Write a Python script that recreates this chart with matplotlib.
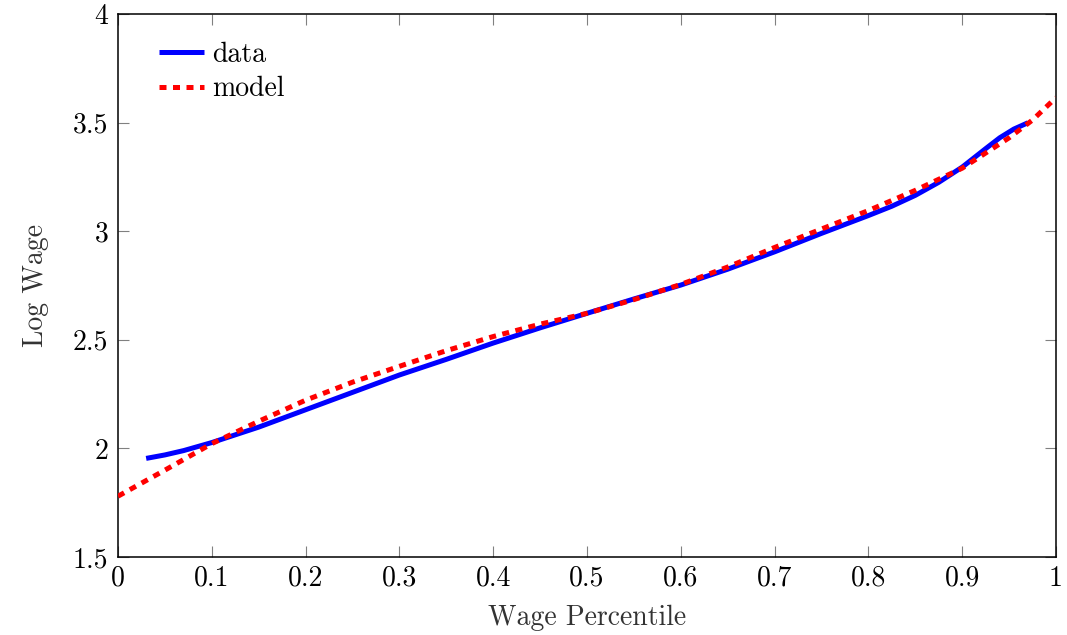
import numpy as np
import matplotlib
matplotlib.use("Agg")
import matplotlib.pyplot as plt

plt.rcParams["font.family"] = "serif"
plt.rcParams["font.serif"] = ["cmr10", "DejaVu Serif"]
plt.rcParams["mathtext.fontset"] = "cm"
plt.rcParams["axes.formatter.use_mathtext"] = True

# wage percentile vs log wage
data_x = [0.03, 0.05, 0.07, 0.10, 0.15, 0.20, 0.25, 0.30, 0.35, 0.40, 0.45, 0.50,
          0.55, 0.60, 0.65, 0.70, 0.75, 0.80, 0.825, 0.85, 0.875, 0.90, 0.925, 0.94, 0.955, 0.97]
data_y = [1.954, 1.970, 1.990, 2.027, 2.098, 2.178, 2.258, 2.338, 2.410, 2.485, 2.555, 2.622,
          2.688, 2.752, 2.825, 2.905, 2.990, 3.072, 3.115, 3.165, 3.225, 3.295, 3.380, 3.430, 3.470, 3.499]

model_x = [0.0, 0.05, 0.10, 0.15, 0.20, 0.25, 0.30, 0.35, 0.40, 0.45, 0.50,
           0.55, 0.60, 0.65, 0.70, 0.75, 0.80, 0.85, 0.90, 0.95, 0.975, 1.0]
model_y = [1.780, 1.900, 2.022, 2.125, 2.222, 2.305, 2.378, 2.450, 2.515, 2.572, 2.622,
           2.685, 2.755, 2.835, 2.925, 3.010, 3.095, 3.188, 3.290, 3.430, 3.512, 3.615]

fig = plt.figure(figsize=(10.67, 6.35), dpi=100)
ax = fig.add_axes([0.1106, 0.1228, 0.8791, 0.8552])

ax.plot(data_x, data_y, color="blue", linewidth=3.6, solid_capstyle="butt",
        solid_joinstyle="round", label="data", zorder=3)
ax.plot(model_x, model_y, color="red", linewidth=3.6, linestyle=(0, (1.4, 1.3)),
        dash_capstyle="butt", label="model", zorder=4)

ax.set_xlim(0, 1)
ax.set_ylim(1.5, 4)
ax.set_xticks(np.arange(0, 1.01, 0.1))
ax.set_xticklabels(["0"] + [f"{v:.1f}" for v in np.arange(0.1, 0.95, 0.1)] + ["1"])
ax.set_yticks([1.5, 2, 2.5, 3, 3.5, 4])
ax.set_yticklabels(["1.5", "2", "2.5", "3", "3.5", "4"])

ax.tick_params(direction="in", length=8, width=0.8, color="#808080",
               top=True, right=True, labelsize=20, pad=6)
ax.tick_params(axis="y", pad=7)
for s in ax.spines.values():
    s.set_linewidth(1.1)

ax.set_xlabel("Wage Percentile", fontsize=20, color="#333333", labelpad=9)
ax.set_ylabel("Log Wage", fontsize=20, color="#333333", labelpad=17)

ax.legend(loc="upper left", frameon=False, fontsize=20, handlelength=1.6,
          handletextpad=0.3, labelspacing=0.3, borderaxespad=0.2,
          bbox_to_anchor=(0.026, 0.98))

fig.savefig("out.png", dpi=100)
